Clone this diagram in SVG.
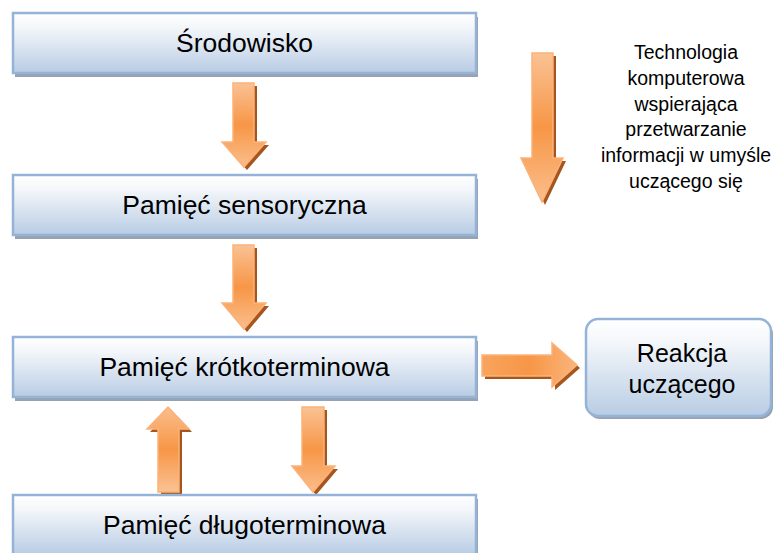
<svg xmlns="http://www.w3.org/2000/svg" width="774" height="553" viewBox="0 0 774 553">
<defs>
<linearGradient id="boxg" x1="0" y1="0" x2="0" y2="1">
<stop offset="0" stop-color="#ffffff"/>
<stop offset="0.25" stop-color="#f3f6fa"/>
<stop offset="1" stop-color="#b8cce4"/>
</linearGradient>
<linearGradient id="aDown" x1="0" y1="0" x2="0" y2="1">
<stop offset="0" stop-color="#fac294"/>
<stop offset="0.5" stop-color="#f79646"/>
<stop offset="1" stop-color="#fbbe8c"/>
</linearGradient>
<linearGradient id="aUp" x1="0" y1="1" x2="0" y2="0">
<stop offset="0" stop-color="#fac294"/>
<stop offset="0.5" stop-color="#f79646"/>
<stop offset="1" stop-color="#fbbe8c"/>
</linearGradient>
<linearGradient id="aRight" x1="0" y1="0" x2="1" y2="0">
<stop offset="0" stop-color="#f8a45e"/>
<stop offset="0.5" stop-color="#f79646"/>
<stop offset="1" stop-color="#fab57c"/>
</linearGradient>
</defs>
<style>
.shadow{fill:#97a3b3}
.box{fill:url(#boxg);stroke:#95b3d7;stroke-width:2.5}
.lbl{font-family:"Liberation Sans",Arial,sans-serif;font-size:26.5px;fill:#000;text-anchor:middle}
.side{font-family:"Liberation Sans",Arial,sans-serif;font-size:19.5px;fill:#000;text-anchor:middle}
.ash{fill:#a5561c}
.arr{stroke:#fbb27a;stroke-width:1.5;stroke-linejoin:miter}
</style>

<g id="connectors">
<g id="arrow-env-sens">
<path class="ash" transform="translate(3,3)" d="M233,83 H254 V142 H266 L244,167 L222,142 H233 Z"/>
<path class="arr" fill="url(#aDown)" d="M233,83 H254 V142 H266 L244,167 L222,142 H233 Z"/>
</g>
<g id="arrow-sens-short">
<path class="ash" transform="translate(3,3)" d="M233,245 H254 V303 H266 L244,329 L222,303 H233 Z"/>
<path class="arr" fill="url(#aDown)" d="M233,245 H254 V303 H266 L244,329 L222,303 H233 Z"/>
</g>
<g id="arrow-tech">
<path class="ash" transform="translate(3,3)" d="M532,53 H553 V158 H563 L542,202 L521,158 H532 Z"/>
<path class="arr" fill="url(#aDown)" d="M532,53 H553 V158 H563 L542,202 L521,158 H532 Z"/>
</g>
<g id="arrow-short-long">
<path class="ash" transform="translate(3,3)" d="M302,407 H324 V466 H335 L313,492 L292,466 H302 Z"/>
<path class="arr" fill="url(#aDown)" d="M302,407 H324 V466 H335 L313,492 L292,466 H302 Z"/>
</g>
<g id="arrow-long-short">
<path class="ash" transform="translate(3,3)" d="M158,492 H179 V429 H189 L168,407 L147,429 H158 Z"/>
<path class="arr" fill="url(#aUp)" d="M158,492 H179 V429 H189 L168,407 L147,429 H158 Z"/>
</g>
<g id="arrow-short-react">
<path class="ash" transform="translate(3,3)" d="M482,355 V376 H552 V387 L577,365 L552,343 V355 Z"/>
<path class="arr" fill="url(#aRight)" d="M482,355 V376 H552 V387 L577,365 L552,343 V355 Z"/>
</g>
</g>

<g id="node-srodowisko">
<rect class="shadow" x="15" y="17" width="463" height="60"/>
<rect class="box" x="13" y="13" width="463" height="60"/>
<text class="lbl" x="244.5" y="52">Środowisko</text>
</g>
<g id="node-sensoryczna">
<rect class="shadow" x="15" y="179" width="463" height="60"/>
<rect class="box" x="13" y="175" width="463" height="60"/>
<text class="lbl" x="244.5" y="214">Pamięć sensoryczna</text>
</g>
<g id="node-krotkoterminowa">
<rect class="shadow" x="15" y="341" width="463" height="60"/>
<rect class="box" x="13" y="337" width="463" height="60"/>
<text class="lbl" x="244.5" y="376">Pamięć krótkoterminowa</text>
</g>
<g id="node-dlugoterminowa">
<rect class="shadow" x="15" y="499" width="463" height="60"/>
<rect class="box" x="13" y="495" width="463" height="60"/>
<text class="lbl" x="244.5" y="534">Pamięć długoterminowa</text>
</g>
<g id="node-reakcja">
<rect class="shadow" x="588" y="322" width="185" height="97" rx="12"/>
<rect class="box" x="586" y="319" width="185" height="97" rx="12"/>
<text class="lbl" x="682" y="362" style="font-size:25px">Reakcja</text>
<text class="lbl" x="682" y="393" style="font-size:25px">uczącego</text>
</g>
<g id="label-tech">
<text class="side" x="686" y="59">Technologia</text>
<text class="side" x="686" y="85">komputerowa</text>
<text class="side" x="686" y="111">wspierająca</text>
<text class="side" x="686" y="136">przetwarzanie</text>
<text class="side" x="686" y="162">informacji w umyśle</text>
<text class="side" x="686" y="188">uczącego się</text>
</g>
</svg>
